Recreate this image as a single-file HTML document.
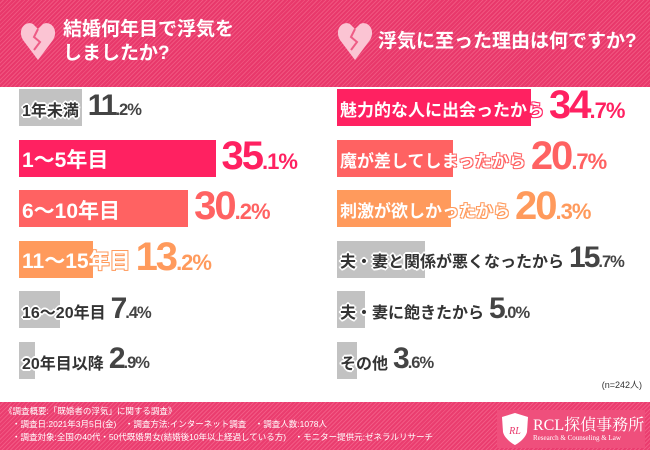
<!DOCTYPE html>
<html><head><meta charset="utf-8">
<style>
body{margin:0;width:650px;height:450px;overflow:hidden;background:#fff;font-family:"Liberation Sans","Noto Sans CJK JP",sans-serif;position:relative}
.hdr{position:absolute;left:0;top:0;width:650px;height:87px;background:repeating-linear-gradient(135deg,#e8386b 0 2px,#f0557f 2px 3px)}
.ftr{position:absolute;left:0;top:402px;width:650px;height:48px;background:repeating-linear-gradient(135deg,#ea3d6f 0 2px,#f25a84 2px 3px)}
.ht{position:absolute;color:#fff;font-weight:bold;font-size:19px;line-height:24px}
.bar{position:absolute;height:37px}
.lbl{position:absolute;font-weight:bold;white-space:nowrap;text-shadow:1px 1px 0 #fff,-1px -1px 0 #fff,1px -1px 0 #fff,-1px 1px 0 #fff,0 2px 0 #fff,2px 0 0 #fff,0 -2px 0 #fff,-2px 0 0 #fff}
.val{position:absolute;font-weight:bold;white-space:nowrap;letter-spacing:-2px}
.val small{font-size:55%;letter-spacing:-1px}
.fn{position:absolute;color:#fff;font-size:8.5px;white-space:nowrap}
</style></head><body>
<div class="hdr"></div>
<svg style="position:absolute;left:20px;top:20px" width="36" height="42"><path d="M18 40 L3 20 C-3 10 5 0 13 4 L18 9 L23 4 C31 0 39 10 33 20 Z" fill="#fbc4d3"/><path d="M18 9 L14 17 L20 22 L14 30" stroke="#ee5c86" stroke-width="2" fill="none"/></svg>
<div class="ht" style="left:63px;top:18px">結婚何年目で浮気を<br>しましたか?</div>
<svg style="position:absolute;left:337px;top:20px" width="36" height="42"><path d="M18 40 L3 20 C-3 10 5 0 13 4 L18 9 L23 4 C31 0 39 10 33 20 Z" fill="#fbc4d3"/><path d="M18 9 L14 17 L20 22 L14 30" stroke="#ee5c86" stroke-width="2" fill="none"/></svg>
<div class="ht" style="left:378px;top:30px">浮気に至った理由は何ですか?</div>
<div id="chart"></div>
<div style="position:absolute;right:8px;top:378px;font-size:9px;color:#333">(n=242人)</div>
<div class="ftr"></div>
<div class="fn" style="left:4px;top:405px">《調査概要:「既婚者の浮気」に関する調査》</div>
<div class="fn" style="left:12px;top:418px">・調査日:2021年3月5日(金)　・調査方法:インターネット調査　・調査人数:1078人</div>
<div class="fn" style="left:12px;top:431px">・調査対象:全国の40代・50代既婚男女(結婚後10年以上経過している方)　・モニター提供元:ゼネラルリサーチ</div>
<div style="position:absolute;left:497px;top:410px;width:148px;height:38px;background:#ef4f7c">
<svg style="position:absolute;left:3px;top:2px" width="30" height="34"><path d="M15 1 L28 5 L27 20 C25 28 15 33 15 33 C15 33 5 28 3 20 L2 5 Z" fill="#fff"/><text x="15" y="22" font-size="10" font-style="italic" text-anchor="middle" fill="#e8386b" font-family="Liberation Serif">RL</text></svg>
<div style="position:absolute;left:36px;top:2px;color:#fff;font-size:16px;font-family:'Liberation Serif','Noto Serif CJK SC',serif">RCL探偵事務所</div>
<div style="position:absolute;left:36px;top:24px;color:#fff;font-size:7px;font-family:'Liberation Serif',serif">Research &amp; Counseling &amp; Law</div>
</div>
<script>
const leftCats=["1年未満","1～5年目","6～10年目","11～15年目","16～20年目","20年目以降"];
const leftVals=[11.2,35.1,30.2,13.2,7.4,2.9];
const leftColors=["#c2c2c2","#ff2161","#ff6262","#ff9a5c","#c2c2c2","#c2c2c2"];
const rightCats=["魅力的な人に出会ったから","魔が差してしまったから","刺激が欲しかったから","夫・妻と関係が悪くなったから","夫・妻に飽きたから","その他"];
const rightVals=[34.7,20.7,20.3,15.7,5.0,3.6];
const rightColors=["#ff2161","#ff6262","#ff9a5c","#c2c2c2","#c2c2c2","#c2c2c2"];
const xScale=v=>v*5.6;
const yRow=i=>89+i*50.6;
const root=document.getElementById('chart');
function panel(cats,vals,colors,x0,side){
  cats.forEach((c,i)=>{
    const big=colors[i]!=="#c2c2c2";
    const y=yRow(i);
    const b=document.createElement('div');
    b.className='bar';
    
    
    b.style.left=x0+'px';b.style.top=y+'px';b.style.width=xScale(vals[i])+'px';b.style.background=colors[i];
    root.appendChild(b);
    const l=document.createElement('div');
    l.className='lbl';
    
    
    const fs=(side==='left'&&big)?21:(big?17:16);
    l.style.fontSize=fs+'px';
    l.style.left=(x0+3)+'px';l.style.top=(y+18-fs*0.65)+'px';
    l.style.color=big?'#fff':'#333';
    if(big)l.style.textShadow='1px 1px 0 '+colors[i]+',-1px -1px 0 '+colors[i]+',1px -1px 0 '+colors[i]+',-1px 1px 0 '+colors[i];
    l.textContent=c;
    root.appendChild(l);
    const lw=l.getBoundingClientRect().width;
    const v=document.createElement('div');
    v.className='val';
    
    
    const vs=big?40:30;
    v.style.fontSize=vs+'px';
    v.style.color=big?colors[i]:'#444';
    const s=vals[i].toFixed(1).split('.');
    v.innerHTML=s[0]+'<small>.'+s[1]+'%</small>';
    const vx=Math.max(x0+xScale(vals[i])+6,x0+3+lw+5);
    v.style.left=vx+'px';v.style.top=(y+19-vs*0.62)+'px';
    root.appendChild(v);
  });
}
panel(leftCats,leftVals,leftColors,19,'left');
panel(rightCats,rightVals,rightColors,337,'right');
</script>
</body></html>
